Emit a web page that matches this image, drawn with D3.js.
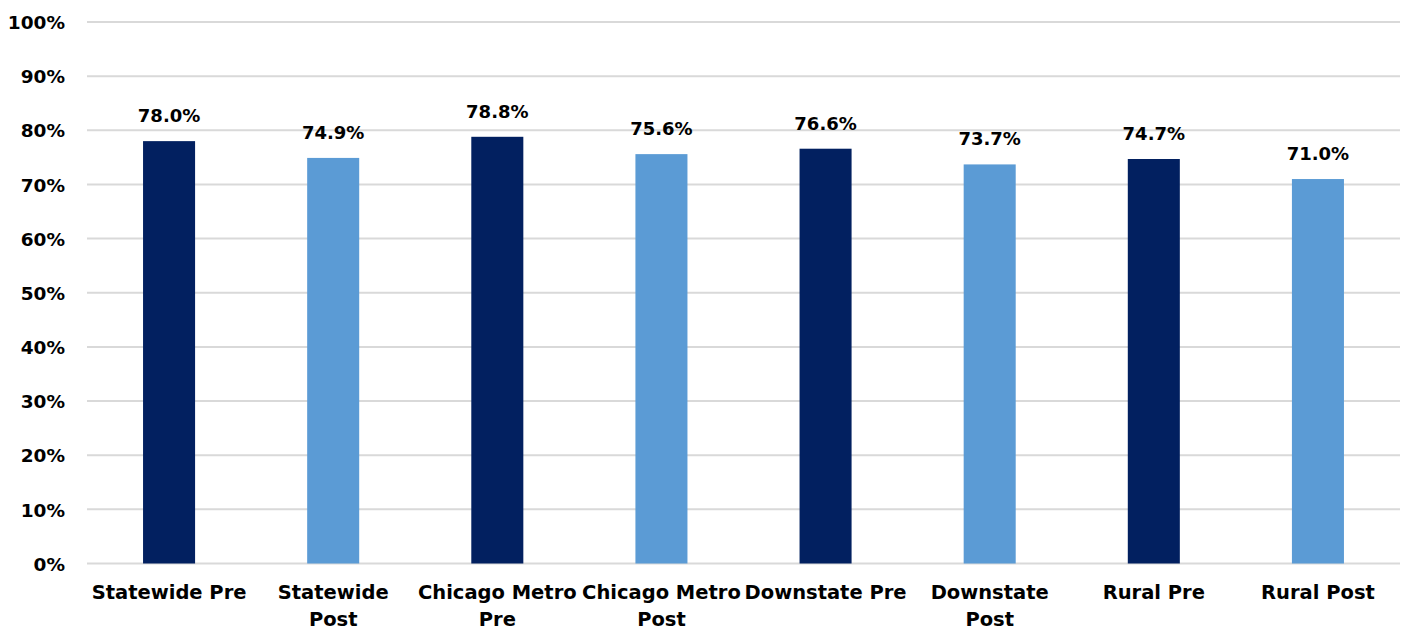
<!DOCTYPE html>
<html><head><meta charset="utf-8">
<script src="https://cdn.jsdelivr.net/npm/d3@7"></script>
<style>html,body{margin:0;padding:0;background:#fff;}svg{display:block;}</style>
</head><body>
<svg id="chart" width="1408" height="632"></svg>
<script>
const categories = ["Statewide Pre","Statewide Post","Chicago Metro Pre","Chicago Metro Post","Downstate Pre","Downstate Post","Rural Pre","Rural Post"];
const tickLines = [["Statewide Pre"],["Statewide","Post"],["Chicago Metro","Pre"],["Chicago Metro","Post"],["Downstate Pre"],["Downstate","Post"],["Rural Pre"],["Rural Post"]];
const values = [78.0,74.9,78.8,75.6,76.6,73.7,74.7,71.0];
const phase = ["Pre","Post","Pre","Post","Pre","Post","Pre","Post"];
const yTicks = [0,10,20,30,40,50,60,70,80,90,100];

const svg = d3.select("#chart");
const font = "'DejaVu Sans', Verdana, sans-serif";
const x0 = 87, x1 = 1400, yTop = 22, yBot = 563.5;
const x = d3.scaleBand().domain(categories).range([x0,x1]).paddingInner(0.683).paddingOuter(0.3415);
const y = d3.scaleLinear().domain([0,100]).range([yBot,yTop]);
const color = d3.scaleOrdinal().domain(["Pre","Post"]).range(["#022060","#5B9BD5"]);

// gridlines
svg.append("g").selectAll("line").data(yTicks).join("line")
  .attr("x1",x0).attr("x2",x1)
  .attr("y1",d=>y(d)).attr("y2",d=>y(d))
  .attr("stroke","#d9d9d9").attr("stroke-width",2);

// y axis labels
const yAxis = d3.axisLeft(y).tickValues(yTicks).tickFormat(d=>d+"%").tickSize(0).tickPadding(0);
const yg = svg.append("g").attr("transform",`translate(65,0)`).call(yAxis);
yg.select(".domain").remove();
yg.selectAll("text").attr("font-family",font).attr("font-weight","bold").attr("font-size","18.5px").attr("fill","#000").attr("dy","0.36em");

// bars
svg.append("g").selectAll("rect").data(values).join("rect")
  .attr("x",(d,i)=>x(categories[i]))
  .attr("width",x.bandwidth())
  .attr("y",d=>y(d))
  .attr("height",d=>y(0)-y(d))
  .attr("fill",(d,i)=>color(phase[i]));

// value labels
svg.append("g").selectAll("text").data(values).join("text")
  .attr("x",(d,i)=>x(categories[i])+x.bandwidth()/2)
  .attr("y",d=>y(d)-19)
  .attr("text-anchor","middle")
  .attr("font-family",font).attr("font-weight","bold").attr("font-size","18px").attr("fill","#000")
  .text(d=>d.toFixed(1)+"%");

// x axis labels
const xAxis = d3.axisBottom(x).tickSize(0).tickFormat("");
const xg = svg.append("g").attr("transform",`translate(0,${yBot})`).call(xAxis);
xg.select(".domain").remove();
xg.selectAll(".tick").each(function(d,i){
  const t = d3.select(this).append("text")
    .attr("text-anchor","middle")
    .attr("font-family",font).attr("font-weight","bold").attr("font-size","19.5px").attr("fill","#000");
  tickLines[i].forEach((line,k)=>{
    t.append("tspan").attr("x",0).attr("y",35+k*27).text(line);
  });
});
</script>
</body></html>
